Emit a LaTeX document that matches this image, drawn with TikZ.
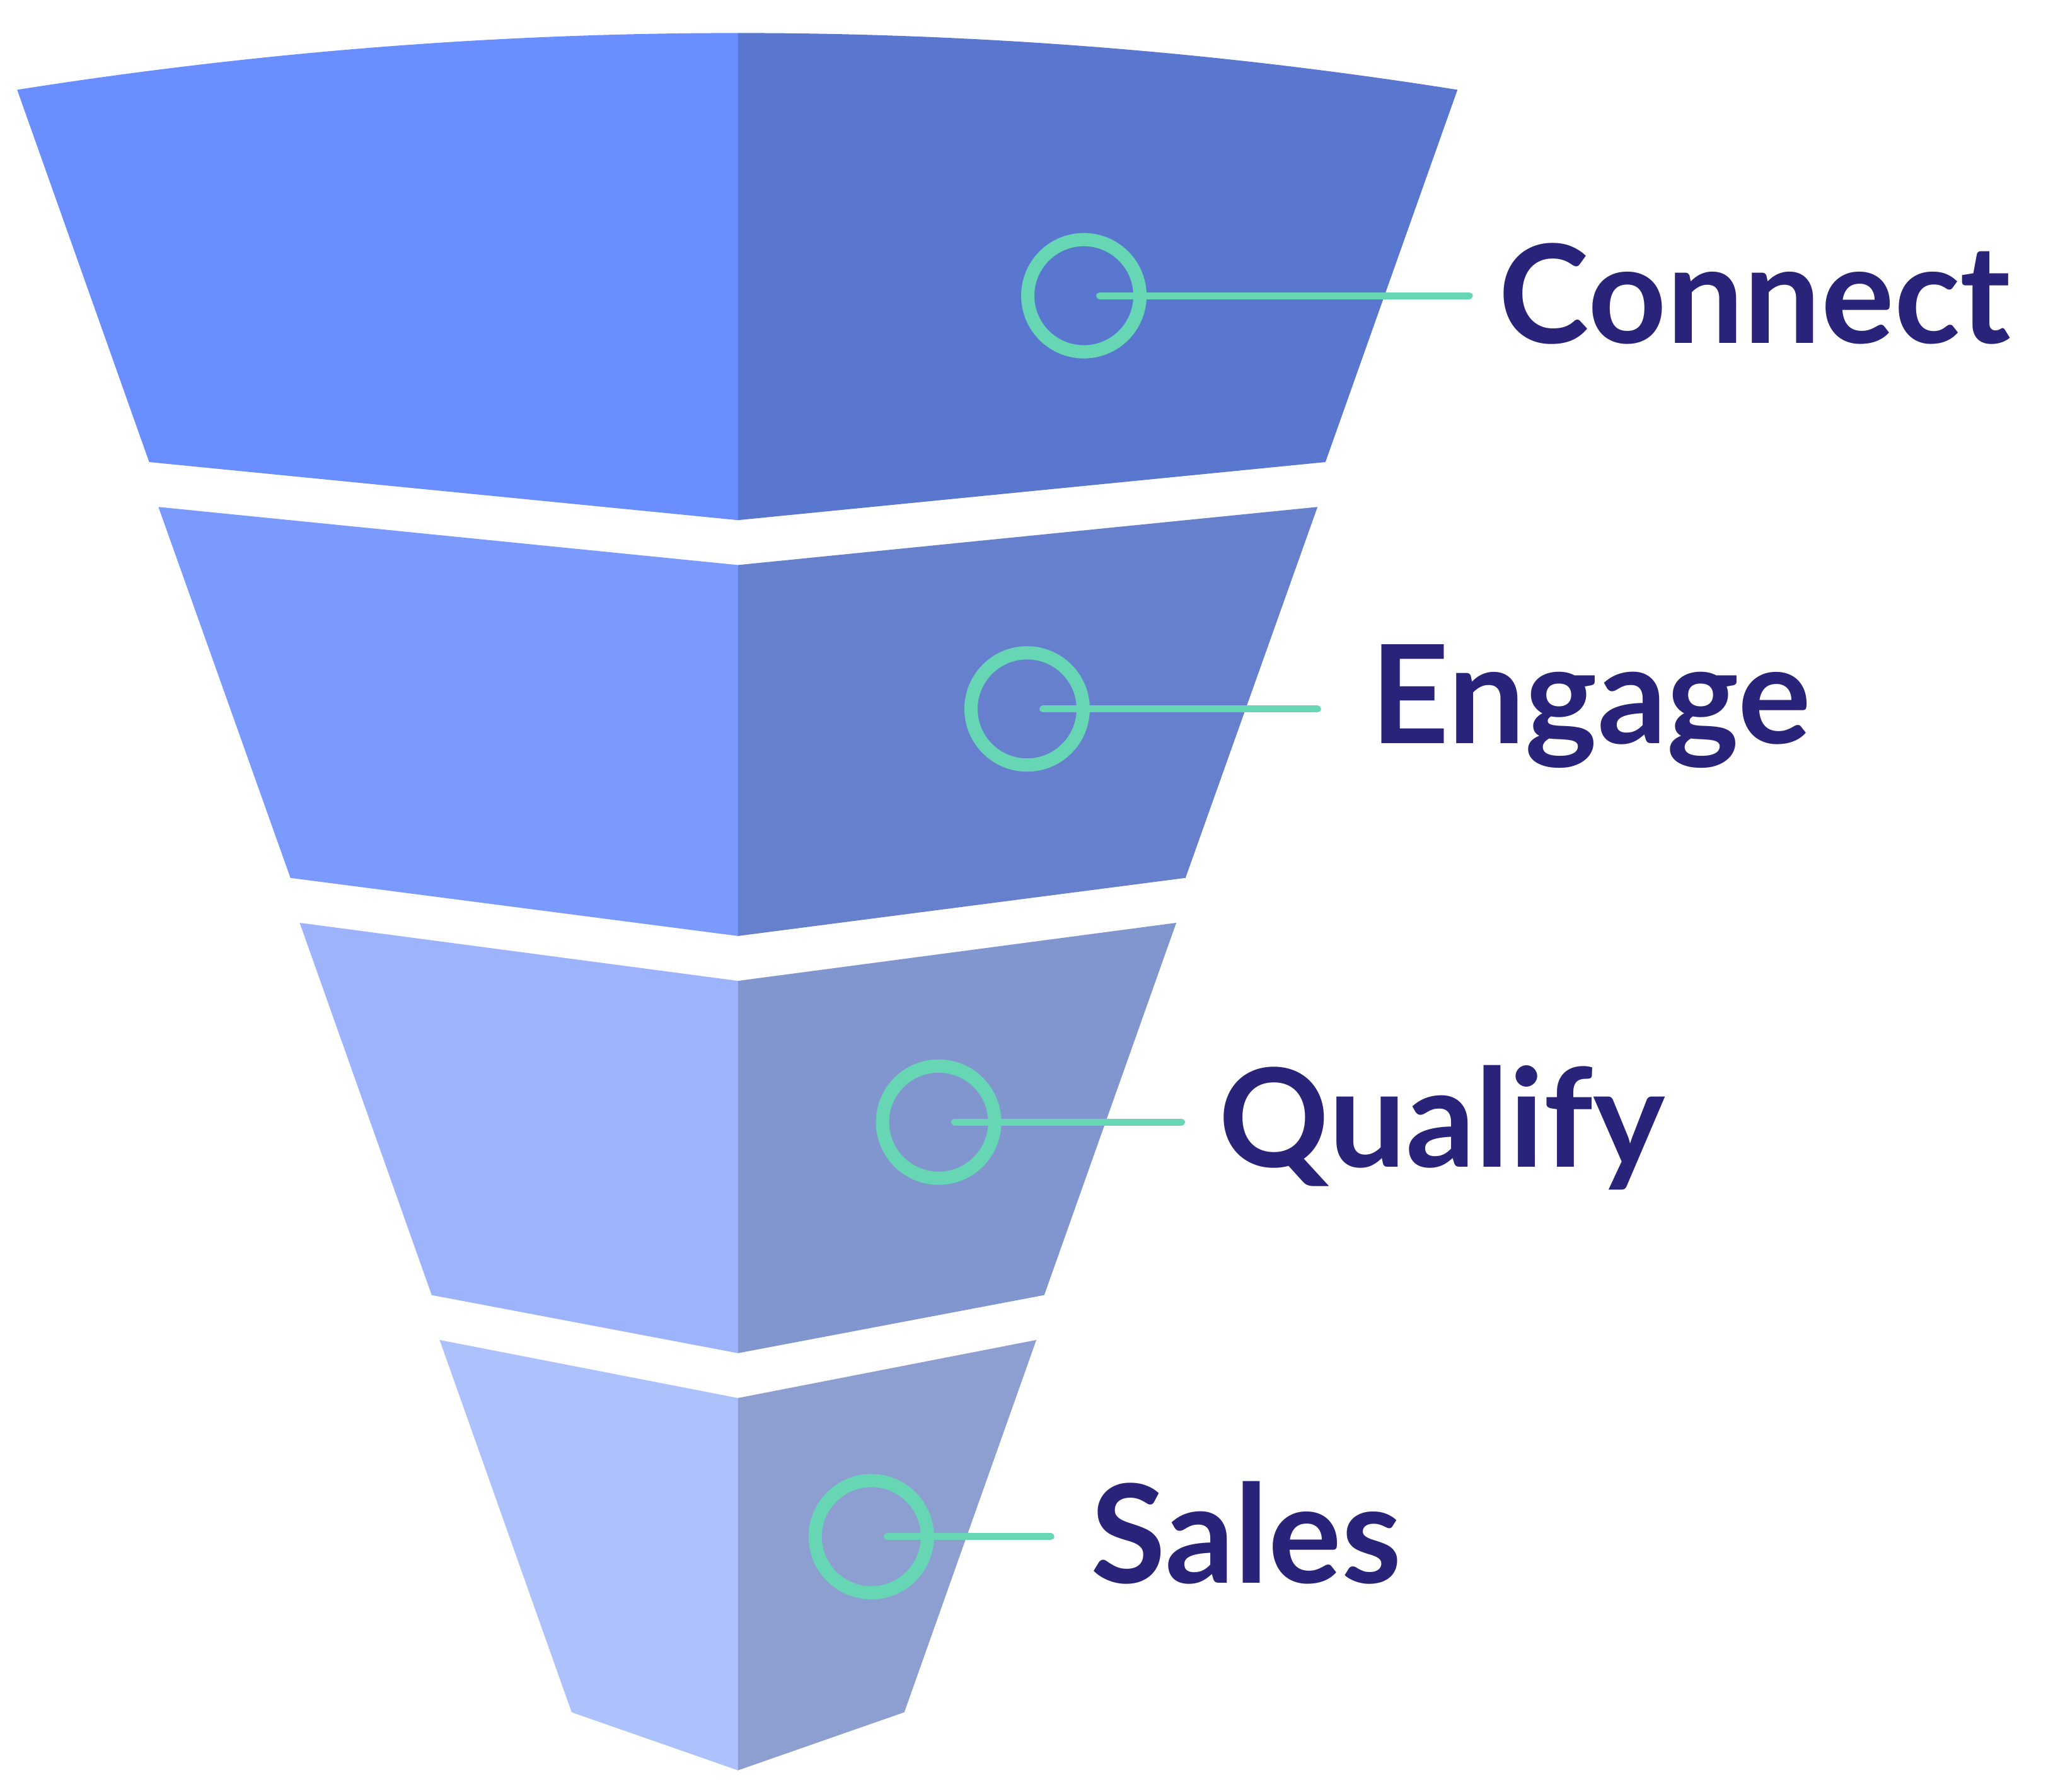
\documentclass[tikz,border=0pt]{standalone}
\usepackage{fontspec}
\setmainfont{Lato}
\definecolor{aL}{HTML}{6A8EFE}
\definecolor{aR}{HTML}{5A77D0}
\definecolor{bL}{HTML}{7B9AFD}
\definecolor{bR}{HTML}{6780CE}
\definecolor{cL}{HTML}{9DB4FC}
\definecolor{cR}{HTML}{8196CE}
\definecolor{dL}{HTML}{ADC1FD}
\definecolor{dR}{HTML}{8D9ED0}
\definecolor{ring}{HTML}{66D6B5}
\definecolor{ink}{HTML}{29247A}
\begin{document}
\begin{tikzpicture}[x=0.02cm,y=-0.02cm,
  marker/.style={circle,draw=ring,line width=5.7pt,minimum size=85*0.02cm,inner sep=0pt},
  leader/.style={draw=ring,line width=3pt,line cap=round},
  label/.style={anchor=base west,inner sep=0pt,text=ink,font=\fontsize{59}{70}\selectfont\bfseries}]
\useasboundingbox (0,0) rectangle (1568,1357);
% segment 1
\fill[aL] (13,68) .. controls (195,39.3) and (377,25) .. (559,25) -- (559,394) -- (113,350) -- cycle;
\fill[aR] (559,25) .. controls (741,25) and (923,39.3) .. (1104,68) -- (1004,350) -- (559,394) -- cycle;
% segment 2
\fill[bL] (120,384) -- (559,428) -- (559,709) -- (220,665) -- cycle;
\fill[bR] (559,428) -- (998,384) -- (898,665) -- (559,709) -- cycle;
% segment 3
\fill[cL] (227,699) -- (559,743) -- (559,1025) -- (327,981) -- cycle;
\fill[cR] (559,743) -- (891,699) -- (791,981) -- (559,1025) -- cycle;
% segment 4
\fill[dL] (333,1015) -- (559,1059) -- (559,1341) -- (433,1297) -- cycle;
\fill[dR] (559,1059) -- (785,1015) -- (685,1297) -- (559,1341) -- cycle;
% markers
\node[marker] (m1) at (821,224) {};
\node[marker] (m2) at (778,537) {};
\node[marker] (m3) at (711,850) {};
\node[marker] (m4) at (660,1164) {};
% labels
\node[label] (t1) at (1135,260) {Connect};
\node[label] (t2) at (1038,563) {Engage};
\node[label] (t3) at (923,884) {Qualify};
\node[label] (t4) at (826,1199) {Sales};
% leader ends
\coordinate (s1) at (833,224); \coordinate (e1) at (1113,224);
\coordinate (s2) at (790,537); \coordinate (e2) at (998,537);
\coordinate (s3) at (723,850); \coordinate (e3) at (895,850);
\coordinate (s4) at (672,1164); \coordinate (e4) at (796,1164);
\draw[leader] (s1) -- (e1);
\draw[leader] (s2) -- (e2);
\draw[leader] (s3) -- (e3);
\draw[leader] (s4) -- (e4);
\end{tikzpicture}
\end{document}
